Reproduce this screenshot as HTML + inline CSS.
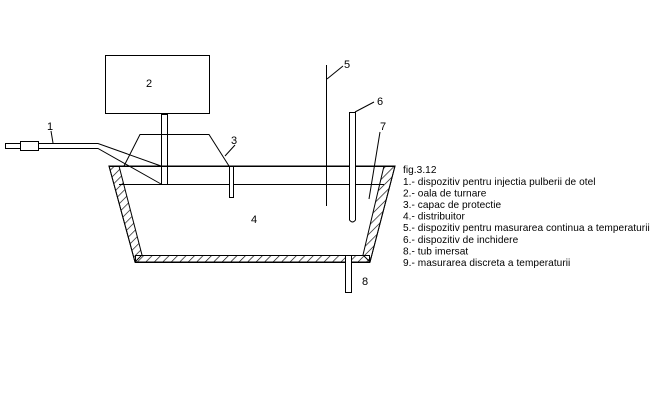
<!DOCTYPE html>
<html><head><style>
body{margin:0;background:#fff;width:655px;height:418px;overflow:hidden}
svg{display:block}
text{font-family:"Liberation Sans",sans-serif;fill:#000}
</style></head><body>
<svg width="655" height="418" viewBox="0 0 655 418" xmlns="http://www.w3.org/2000/svg">
<defs>
<pattern id="h" width="6" height="6" patternUnits="userSpaceOnUse" patternTransform="rotate(45)">
<line x1="0" y1="0" x2="0" y2="6" stroke="#000" stroke-width="1.3"/>
</pattern>
</defs>
<g stroke="#000" stroke-width="1" fill="none">
<rect x="105.5" y="55.5" width="104" height="58" fill="#fff"/>
<rect x="161.5" y="114.5" width="6" height="70"/>
<polyline points="124,166 140,134.5 209,134.5 229,166"/>
<polygon points="109,166 119,166 142,255 135,262" fill="url(#h)"/>
<polygon points="395,166 384,166 363,255 370,262" fill="url(#h)"/>
<rect x="135.5" y="255.5" width="234" height="7" fill="url(#h)"/>
<polygon points="109,166 395,166 370,262 135,262"/>
<line x1="109" y1="166.5" x2="395" y2="166.5"/>
<line x1="119" y1="184.5" x2="384" y2="184.5"/>
<rect x="5.5" y="143.5" width="15" height="5" fill="#fff"/>
<rect x="20.5" y="141.5" width="18" height="9" fill="#fff"/>
<polyline points="38,143.5 98,143.5 161,166"/>
<polyline points="38,148.5 98,148.5 161,184"/>
<line x1="51" y1="131" x2="53" y2="143"/>
<rect x="229.5" y="166.5" width="4" height="31" fill="#fff"/>
<line x1="225" y1="156" x2="235" y2="145"/>
<line x1="326.5" y1="65" x2="326.5" y2="206"/>
<line x1="327" y1="79" x2="343" y2="66"/>
<path d="M349.5 112.5 H355.5 V220 Q352.5 224 349.5 220 Z" fill="#fff"/>
<line x1="355" y1="112" x2="374" y2="102"/>
<line x1="369" y1="199" x2="380" y2="132"/>
<rect x="345.5" y="255.5" width="6" height="37" fill="#fff"/>
</g>
<g font-size="11">
<text x="146" y="87">2</text>
<text x="47" y="130">1</text>
<text x="231" y="144">3</text>
<text x="251" y="223">4</text>
<text x="344" y="68">5</text>
<text x="377" y="105">6</text>
<text x="380" y="130">7</text>
<text x="362" y="285">8</text>
</g>
<g font-size="10.1" letter-spacing="0.05">
<text x="403" y="173">fig.3.12</text>
<text x="403" y="185">1.- dispozitiv pentru injectia pulberii de otel</text>
<text x="403" y="196.5">2.- oala de turnare</text>
<text x="403" y="208">3.- capac de protectie</text>
<text x="403" y="219.5">4.- distribuitor</text>
<text x="403" y="231">5.- dispozitiv pentru masurarea continua a temperaturii</text>
<text x="403" y="243">6.- dispozitiv de inchidere</text>
<text x="403" y="254.5">8.- tub imersat</text>
<text x="403" y="266">9.- masurarea discreta a temperaturii</text>
</g>
</svg>
</body></html>
